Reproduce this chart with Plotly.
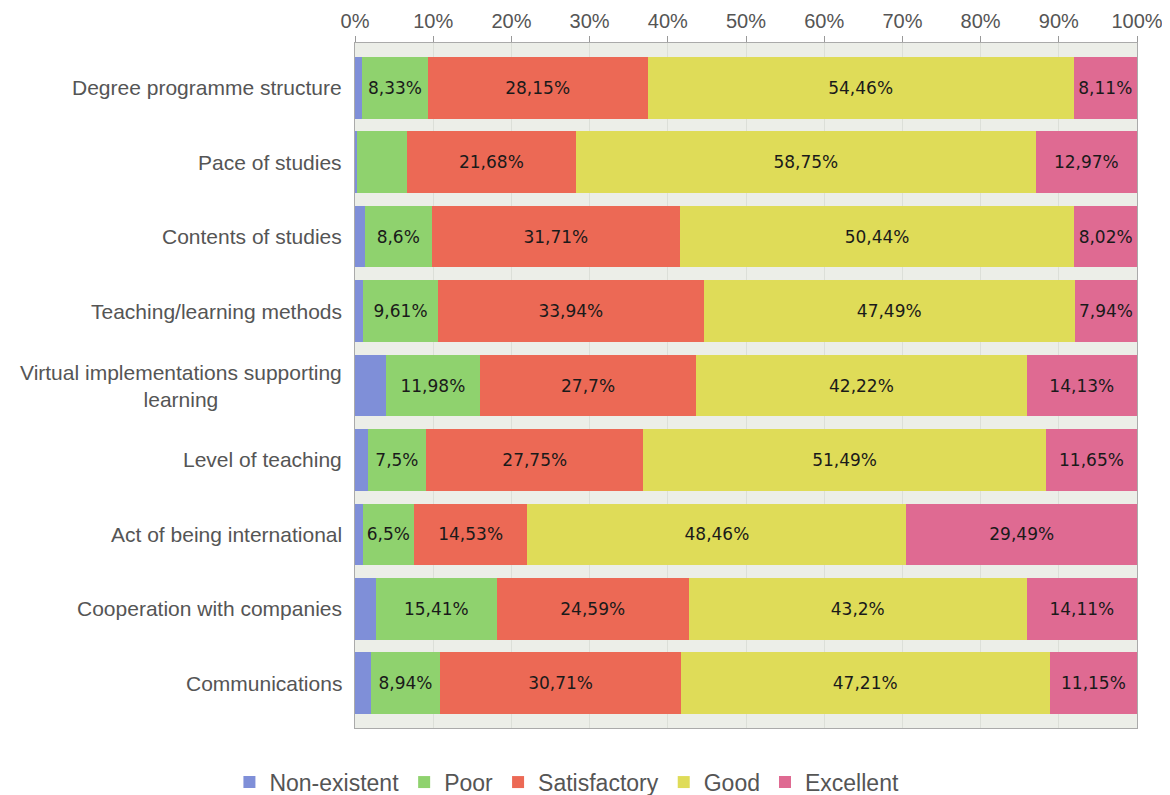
import plotly.graph_objects as go

categories = [
    "Degree programme structure",
    "Pace of studies",
    "Contents of studies",
    "Teaching/learning methods",
    "Virtual implementations supporting<br>learning",
    "Level of teaching",
    "Act of being international",
    "Cooperation with companies",
    "Communications",
]

non_existent = [0.95, 0.3, 1.23, 1.02, 3.97, 1.61, 1.02, 2.69, 1.99]
poor = [8.33, 6.3, 8.6, 9.61, 11.98, 7.5, 6.5, 15.41, 8.94]
satisfactory = [28.15, 21.68, 31.71, 33.94, 27.7, 27.75, 14.53, 24.59, 30.71]
good = [54.46, 58.75, 50.44, 47.49, 42.22, 51.49, 48.46, 43.2, 47.21]
excellent = [8.11, 12.97, 8.02, 7.94, 14.13, 11.65, 29.49, 14.11, 11.15]

x_ticks = list(range(0, 101, 10))
x_tick_labels = [f"{t}%" for t in x_ticks]

# segments that carry no label in the original
poor_unlabelled = {1}

series = [
    ("Non-existent", non_existent, "#7f8fd8", False),
    ("Poor", poor, "#8fd26e", True),
    ("Satisfactory", satisfactory, "#ec6955", True),
    ("Good", good, "#dfdc58", True),
    ("Excellent", excellent, "#df6a92", True),
]


def fmt(v):
    s = f"{v:.2f}".rstrip("0").rstrip(".")
    return s.replace(".", ",") + "%"


fig = go.Figure()
for name, vals, color, labelled in series:
    texts = []
    for i, v in enumerate(vals):
        if not labelled or (name == "Poor" and i in poor_unlabelled):
            texts.append("")
        else:
            texts.append(fmt(v))
    fig.add_trace(go.Bar(
        y=list(range(len(categories))),
        x=vals,
        name=name,
        orientation="h",
        marker=dict(color=color, line=dict(width=0)),
        text=texts,
        textposition="inside",
        insidetextanchor="middle",
        textangle=0,
        constraintext="none",
        textfont=dict(family="DejaVu Sans", size=17, color="#1a1a1a"),
        hoverinfo="x+name",
    ))

for i, cat in enumerate(categories):
    fig.add_annotation(
        x=0, xref="paper", xanchor="right", xshift=-11,
        y=i, yref="y", yanchor="middle",
        text=cat, showarrow=False, align="center",
        font=dict(family="Liberation Sans", size=21, color="#555555"),
    )

# the page body adds an 8px margin, so the figure is sized to fit the window
fig.update_layout(
    width=1162,
    height=787,
    barmode="stack",
    bargap=0.17,
    plot_bgcolor="#eceee8",
    paper_bgcolor="white",
    margin=dict(l=347, r=33, t=35, b=67, autoexpand=False),
    font=dict(family="Liberation Sans", size=16, color="#555555"),
    legend=dict(
        orientation="h", x=0.271, xanchor="center",
        y=-0.079, yanchor="middle", traceorder="normal",
        font=dict(size=23, color="#555555"),
        itemwidth=30,
    ),
    xaxis=dict(
        side="top", range=[0, 100], tickvals=x_ticks, ticktext=x_tick_labels,
        ticks="outside", ticklen=6, tickcolor="#999999", automargin=False,
        showline=True, linecolor="#aaaaaa", mirror=True,
        showgrid=True, gridcolor="#dcdfd8", zeroline=False,
        tickfont=dict(size=20, color="#555555"),
    ),
    yaxis=dict(
        range=[8.6, -0.6], showticklabels=False, showgrid=False, automargin=False,
        showline=True, linecolor="#aaaaaa", mirror=True, zeroline=False,
    ),
)

fig.write_html("out.html")
